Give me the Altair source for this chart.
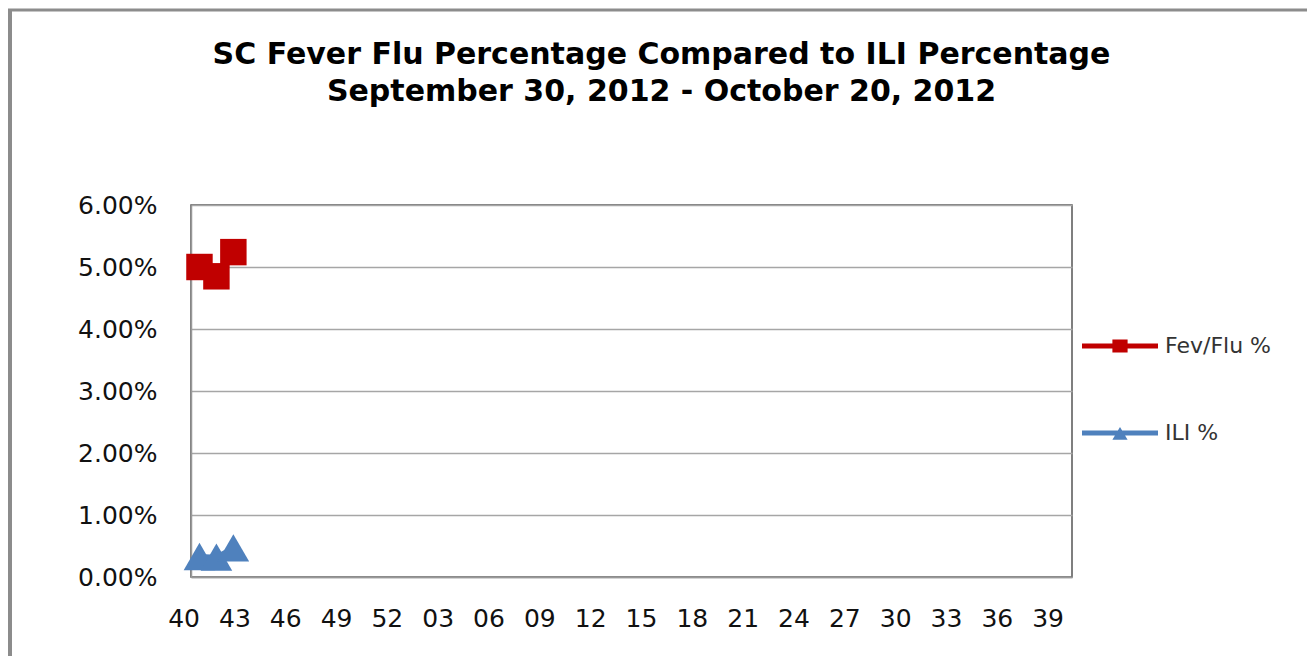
import altair as alt
import pandas as pd

weeks = ["40", "41", "42", "43", "44", "45", "46", "47", "48", "49", "50", "51", "52",
         "01", "02", "03", "04", "05", "06", "07", "08", "09", "10", "11", "12", "13",
         "14", "15", "16", "17", "18", "19", "20", "21", "22", "23", "24", "25", "26",
         "27", "28", "29", "30", "31", "32", "33", "34", "35", "36", "37", "38", "39"]
tick_weeks = ["40", "43", "46", "49", "52", "03", "06", "09", "12", "15", "18", "21",
              "24", "27", "30", "33", "36", "39"]
obs_weeks = ["40", "41", "42"]
fev_pct = [0.0500, 0.0485, 0.0524]
ili_pct = [0.0033, 0.0032, 0.0047]
series = ["Fev/Flu %", "ILI %"]
colors = ["#C00000", "#4F81BD"]
y_ticks = [0.0, 0.01, 0.02, 0.03, 0.04, 0.05, 0.06]

df = pd.DataFrame({"week": obs_weeks, "fev": fev_pct, "ili": ili_pct})

W, H = 881, 372
PAD = {"left": 183, "top": 197, "right": 235, "bottom": 79}

x_enc = alt.X("week:O", sort=weeks, scale=alt.Scale(domain=weeks),
              axis=alt.Axis(values=tick_weeks, title=None, labelAngle=0, ticks=False,
                            labelAlign="right",
                            labelFont="DejaVu Sans", labelFontSize=25, labelColor="#111",
                            labelPadding=29, domainColor="#999999",
                            domainWidth=1.5, grid=False))

def y_enc(field):
    return alt.Y(f"{field}:Q", scale=alt.Scale(domain=[0, 0.06]),
                 axis=alt.Axis(values=y_ticks, format=".2%", title=None, ticks=False,
                               labelFont="DejaVu Sans", labelFontSize=25, labelColor="#111",
                               labelPadding=34, domainColor="#999999", domainWidth=1.5,
                               grid=True, gridColor="#a6a6a6", gridWidth=1.5))

base = alt.Chart(df)

fev_line = base.mark_line(color=colors[0], strokeWidth=5).encode(x=x_enc, y=y_enc("fev"))
fev_pts = base.mark_point(shape="square", filled=True, size=700, color=colors[0],
                          opacity=1).encode(x=x_enc, y=y_enc("fev"))
ili_line = base.mark_line(color=colors[1], strokeWidth=5).encode(x=x_enc, y=y_enc("ili"))
ili_pts = base.mark_point(shape="triangle-up", filled=True, size=1000, color=colors[1],
                          opacity=1).encode(x=x_enc, y=y_enc("ili"))

sq_path = "M-1,-0.066H1V0.066H-1Z M-0.2,-0.17H0.2V0.17H-0.2Z"
tri_path = "M-1,-0.066H1V0.066H-1Z M-0.2,0.18L0,-0.16L0.2,0.18Z"

leg = dict(title=None, orient="none", legendX=891, legendY=103,
           symbolSize=5776, symbolStrokeWidth=0, symbolOpacity=1,
           labelFont="DejaVu Sans", labelFontSize=22,
           labelColor="#333333", labelOffset=7,
           rowPadding=38, padding=0)

# legend-only layer: no rows drawn, legend built from the explicit scale domains
legend_layer = base.transform_fold(["fev", "ili"], as_=["key", "value"]).transform_calculate(
    series="datum.key == 'fev' ? 'Fev/Flu %' : 'ILI %'"
).transform_filter("datum.value < 0").mark_point(filled=True).encode(
    x=x_enc,
    y=y_enc("value"),
    color=alt.Color("series:N", scale=alt.Scale(domain=series, range=colors),
                    legend=alt.Legend(**leg)),
    shape=alt.Shape("series:N", scale=alt.Scale(domain=series, range=[sq_path, tri_path]),
                    legend=alt.Legend(**leg)),
)

frame_data = alt.Data(values=[{"k": 1}])
frame_left = alt.Chart(frame_data).mark_rule(color="#8c8c8c", strokeWidth=4).encode(
    x=alt.value(-181), y=alt.value(-196), y2=alt.value(H + PAD["bottom"]))
frame_top = alt.Chart(frame_data).mark_rule(color="#8c8c8c", strokeWidth=3).encode(
    x=alt.value(-183), x2=alt.value(W + PAD["right"]), y=alt.value(-195))

chart = alt.layer(
    frame_left, frame_top, fev_line, ili_line, fev_pts, ili_pts, legend_layer
).properties(
    width=W, height=H,
    title=alt.TitleParams(
        text=["SC Fever Flu  Percentage Compared to ILI Percentage",
              "September 30, 2012 - October 20, 2012"],
        font="DejaVu Sans", fontSize=30, fontWeight="bold", color="#000000",
        anchor="middle", dx=30, offset=-100, lineHeight=37),
    autosize=alt.AutoSizeParams(type="none"),
    padding=PAD,
    background="white",
).configure_view(stroke="#555555", strokeWidth=1.5)

chart.save("out.html", embed_options={"renderer": "svg", "actions": False})
